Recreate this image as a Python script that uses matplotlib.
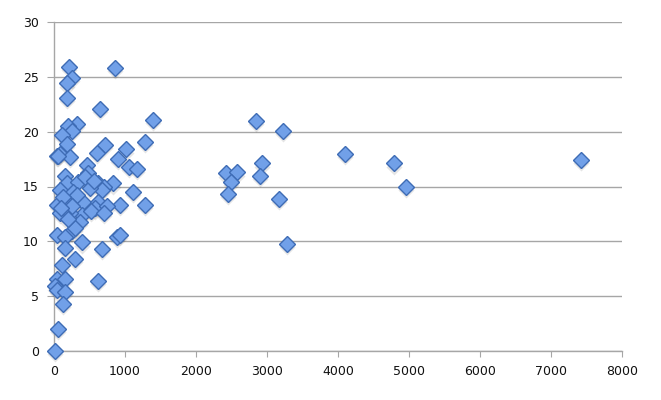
import matplotlib
matplotlib.use("Agg")
import matplotlib.pyplot as plt

x_values = [216, 859, 249, 183, 183, 648, 1390, 324, 197, 250, 110, 179, 1282, 718, 1010,
            601, 85, 40, 225, 906, 460, 1060, 1165, 484, 155, 179, 342, 624, 835, 700,
            672, 1117, 85, 272, 155, 413, 624, 930, 1282, 38, 577, 742, 390, 85, 225,
            366, 38, 249, 155, 390, 883, 930, 672, 155, 296, 108, 38, 155, 624, 14,
            38, 155, 131, 61, 14,
            2840, 3230, 2418, 2573, 2488, 2455, 2925, 2901, 3169, 3277, 4100, 4789, 4958, 7423,
            437, 500, 320, 120, 260, 520, 700, 300, 200, 60, 560, 100]
y_values = [25.9, 25.8, 24.9, 24.4, 23.1, 22.1, 21.1, 20.7, 20.5, 20.1, 19.7, 18.9, 19.1, 18.8, 18.4,
            18.1, 18.0, 17.8, 17.7, 17.5, 17.0, 16.8, 16.6, 16.2, 16.0, 15.3, 15.4, 15.3, 15.3, 15.0,
            14.7, 14.5, 14.7, 14.5, 13.8, 13.6, 13.6, 13.3, 13.3, 13.3, 13.0, 13.2, 12.4, 12.6, 12.6,
            11.8, 10.6, 10.9, 10.4, 9.9, 10.4, 10.6, 9.3, 9.4, 8.4, 7.8, 6.6, 6.6, 6.4, 5.9,
            5.6, 5.4, 4.3, 2.0, 0.0,
            21.0, 20.1, 16.2, 16.3, 15.4, 14.3, 17.1, 15.95, 13.85, 9.8, 18.0, 17.1, 15.0, 17.4,
            15.9, 14.9, 14.2, 14.0, 13.2, 12.8, 12.6, 11.2, 12.0, 17.8, 15.5, 13.0]

x_ticks = [0, 1000, 2000, 3000, 4000, 5000, 6000, 7000, 8000]
y_ticks = [0, 5, 10, 15, 20, 25, 30]

fig = plt.figure(figsize=(6.61, 4.0), dpi=100)
ax = fig.add_axes([54/661, 1-351/400, (622-54)/661, (351-22)/400])

grid_c = "#a6a6a6"
# soft shadow under each marker
ax.plot(x_values, [y - 0.3 for y in y_values], linestyle="none", marker="D", markersize=8.6,
        markerfacecolor="#000000", markeredgecolor="none", alpha=0.10, zorder=2, clip_on=False)
ax.plot(x_values, y_values, linestyle="none", marker="D", markersize=8.4,
        markerfacecolor="#71a0e8", markeredgecolor="#3e6cb5", markeredgewidth=1.0,
        zorder=3, clip_on=False)

ax.set_xlim(0, 8000)
ax.set_ylim(0, 30)
ax.set_xticks(x_ticks)
ax.set_yticks(y_ticks)
ax.set_xticklabels([str(t) for t in x_ticks])
ax.set_yticklabels([str(t) for t in y_ticks])

ax.yaxis.grid(True, color=grid_c, linewidth=1.0)
ax.set_axisbelow(True)
for s in ["top", "right"]:
    ax.spines[s].set_visible(False)
for s in ["left", "bottom"]:
    ax.spines[s].set_color(grid_c)
    ax.spines[s].set_linewidth(1.0)

ax.tick_params(axis="x", direction="out", length=4, color=grid_c, labelsize=9, pad=6,
               labelcolor="#111111")
ax.tick_params(axis="y", direction="out", length=5, color=grid_c, labelsize=9, pad=6,
               labelcolor="#111111")

fig.savefig("out.png", dpi=100)
